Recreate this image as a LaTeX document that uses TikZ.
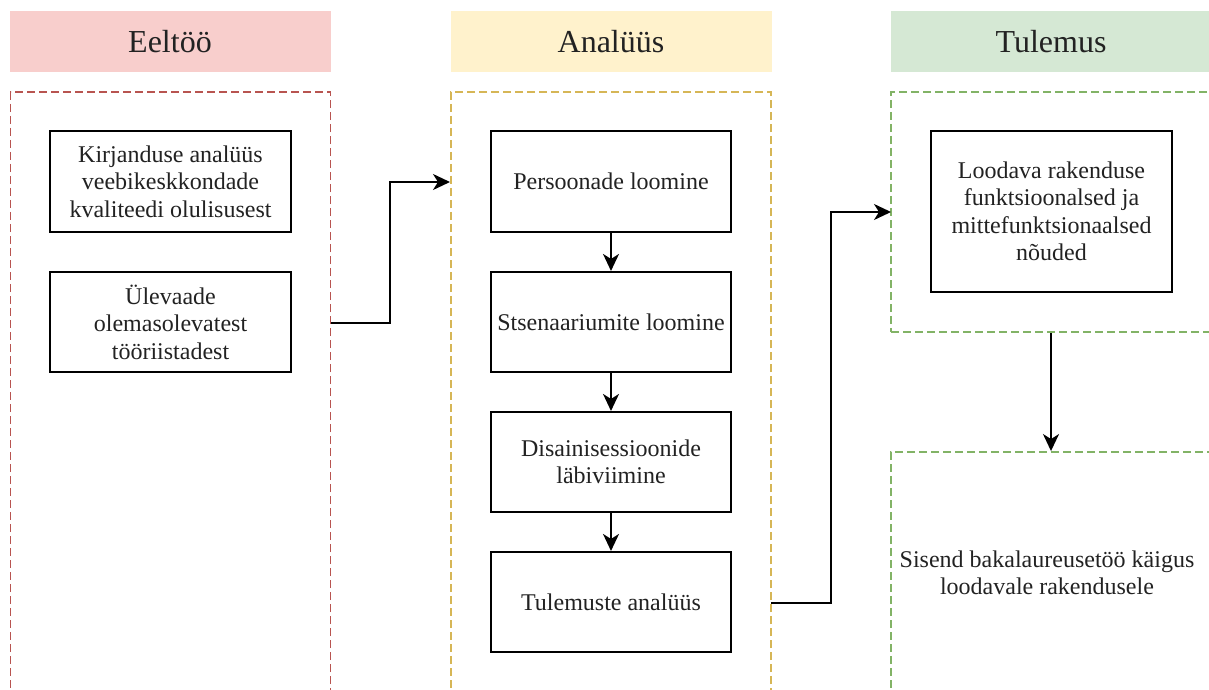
\documentclass[tikz,border=0pt]{standalone}
\usepackage{fontspec}
\setmainfont{Liberation Serif}
\usetikzlibrary{arrows.meta}
\definecolor{hpink}{HTML}{F8CECC}
\definecolor{hyellow}{HTML}{FFF2CC}
\definecolor{hgreen}{HTML}{D5E8D4}
\definecolor{dred}{HTML}{B85450}
\definecolor{dyellow}{HTML}{D6B656}
\definecolor{dgreen}{HTML}{82B366}
\definecolor{txt}{HTML}{222222}
\tikzset{
  header/.style={inner sep=0pt, minimum width=321pt, minimum height=61pt, text=txt, font=\fontsize{32}{36}\selectfont},
  lane/.style={draw, dashed, dash pattern=on 8pt off 4pt, line width=1.9pt, inner sep=0pt, minimum width=320pt},
  procbox/.style={draw=black, line width=2.1pt, fill=white, inner sep=0pt, align=center, text=txt, font=\fontsize{24}{27.5}\selectfont},
  conn/.style={line width=2pt, -{Stealth[length=17pt,width=16pt,inset=5pt]}},
}
\begin{document}
\begin{tikzpicture}[x=1pt,y=-1pt]
\useasboundingbox (0,0) rectangle (1209,690);
% headers
\node[header, fill=hpink] (h1) at (170,41.5) {Eeltöö};
\node[header, fill=hyellow] (h2) at (611,41.5) {Analüüs};
\node[header, fill=hgreen] (h3) at (1051,41.5) {Tulemus};
% lanes
\node[lane, draw=dred, minimum height=620pt] (c1) at (170.5,402) {};
\node[lane, draw=dyellow, minimum height=620pt] (c2) at (611,402) {};
\node[lane, draw=dgreen, minimum height=240pt] (t1) at (1051,212) {};
\node[lane, draw=dgreen, minimum height=260pt] (t2) at (1051,582) {};
% Eeltöö boxes
\node[procbox, minimum width=241pt, minimum height=101pt] (e1) at (170.5,181.5) {Kirjanduse analüüs\\veebikeskkondade\\kvaliteedi olulisusest};
\node[procbox, minimum width=241pt, minimum height=100pt] (e2) at (170.5,322) {Ülevaade\\olemasolevatest\\tööriistadest};
% Analüüs boxes
\node[procbox, minimum width=240pt, minimum height=101pt] (a1) at (611,181.5) {Persoonade loomine};
\node[procbox, minimum width=240pt, minimum height=100pt] (a2) at (611,322) {Stsenaariumite loomine};
\node[procbox, minimum width=240pt, minimum height=100pt] (a3) at (611,462) {Disainisessioonide\\läbiviimine};
\node[procbox, minimum width=240pt, minimum height=100pt] (a4) at (611,602) {Tulemuste analüüs};
% Tulemus
\node[procbox, minimum width=241pt, minimum height=161pt] (r1) at (1051.5,211.5) {Loodava rakenduse\\funktsioonalsed ja\\mittefunktsionaalsed\\nõuded};
\node[align=center, text=txt, font=\fontsize{24}{27.5}\selectfont, inner sep=0pt] (r2) at (1047,573) {Sisend bakalaureusetöö käigus\\loodavale rakendusele};
% connector ends
\coordinate (s1) at (331,323);
\coordinate (d1) at (450,182);
\coordinate (s2) at (771,603);
\coordinate (d2) at (891,212);
% connectors
\draw[conn] (s1) -- ++(59,0) |- (d1);
\draw[conn] (s2) -- ++(60,0) |- (d2);
\draw[conn] (a1) -- (a2);
\draw[conn] (a2) -- (a3);
\draw[conn] (a3) -- (a4);
\draw[conn] (t1.south) -- (t2.north);
\end{tikzpicture}
\end{document}
